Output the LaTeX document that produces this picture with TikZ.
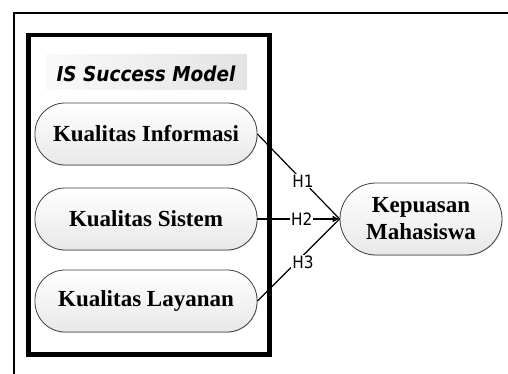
\documentclass[tikz,border=0pt]{standalone}
\usepackage{fontspec}
\setmainfont{Liberation Serif}
\newfontfamily\hfont[FakeStretch=0.9]{DejaVu Sans}
\usetikzlibrary{arrows.meta,shadows}
\tikzset{
  oval/.style={draw=black!75, line width=0.8pt, rounded corners=30pt,
    minimum width=222pt, minimum height=62pt, top color=white, bottom color=black!9,
    drop shadow={shadow xshift=0.6pt, shadow yshift=-0.8pt, opacity=0.3},
    font=\fontsize{23}{27}\selectfont\bfseries, align=center, inner sep=0pt},
  conn/.style={line width=1.2pt},
  tip/.style={line width=1.2pt, -{Latex[length=7pt,width=7pt]}},
  lbl/.style={fill=white, inner sep=1pt, font=\hfont\fontsize{17}{19}\selectfont},
  titlebg/.style={left color=black!2, right color=black!11, draw=none,
    minimum width=202pt, minimum height=35pt, inner sep=0pt},
  titletext/.style={font=\hfont\bfseries\itshape\fontsize{20.5}{24}\selectfont, inner sep=0pt}
}
\begin{document}
\begin{tikzpicture}[x=1pt,y=-1pt]
\useasboundingbox (0,0) rectangle (508,374);
\draw[line width=2pt] (508,13) -- (14,13) -- (14,374);
\draw[line width=4.5pt] (28.5,35) rectangle (269.5,354.5);
\node[titlebg] (tbg) at (146,72.5) {};
\node[titletext, anchor=base] (title) at (146,82) {IS Success Model};
\node[oval] (ki) at (146,134) {Kualitas Informasi};
\node[oval] (ks) at (146,219) {Kualitas Sistem};
\node[oval] (kl) at (146,301) {Kualitas Layanan};
\node[oval, minimum width=162pt, minimum height=72pt, rounded corners=36pt] (kp) at (421,219) {Kepuasan\\Mahasiswa};
\draw[conn] (ki.east) -- node[lbl, pos=0.554] {H1} (kp.west);
\draw[conn] (kl.east) -- node[lbl, pos=0.554, yshift=-7pt] {H3} (kp.west);
\draw[tip] (ks.east) -- node[lbl, pos=0.54] {H2} (kp.west);
\end{tikzpicture}
\end{document}
